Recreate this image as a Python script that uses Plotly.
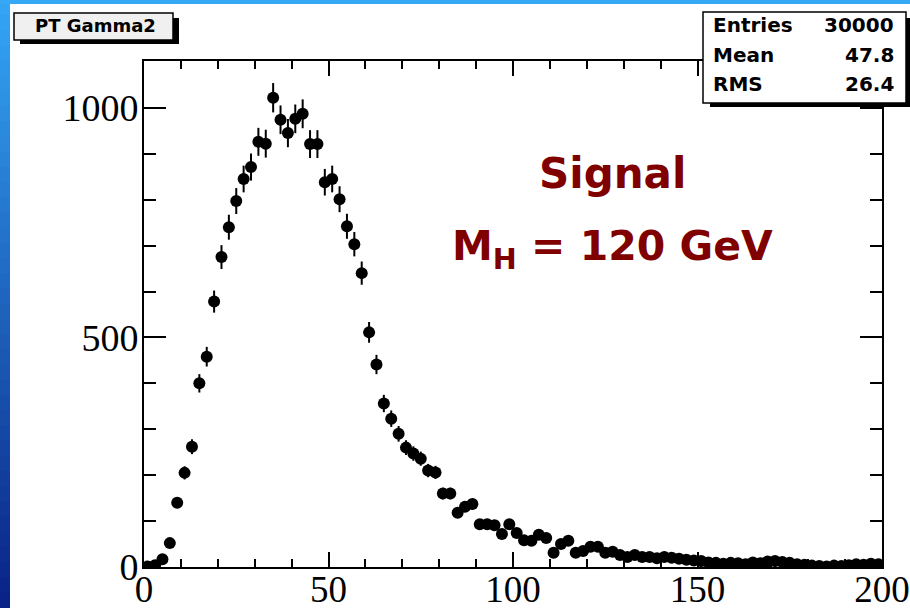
import plotly.graph_objects as go

# ---------------- data ----------------
bin_start = 1      # first bin centre (GeV)
bin_width = 2      # GeV
counts = [
    1, 4, 17, 52, 140, 205, 262, 400, 458, 578,
    675, 740, 797, 845, 871, 926, 922, 1022, 974, 945,
    976, 987, 921, 921, 838, 845, 801, 742, 703, 640,
    511, 441, 356, 323, 290, 260, 247, 236, 210, 206,
    160, 160, 118, 131, 137, 93, 93, 91, 72, 93,
    74, 58, 57, 70, 63, 31, 50, 57, 31, 35,
    44, 44, 31, 33, 26, 22, 26, 22, 22, 19,
    22, 20, 18, 16, 14, 13, 10, 9, 7, 9,
    8, 6, 10, 8, 12, 13, 11, 9, 6, 5,
    3, 2, 1, 3, 2, 4, 6, 5, 7, 6,
]
hist_title = "PT Gamma2"
stats_labels = ["Entries", "Mean", "RMS"]
stats_values = ["30000", "47.8", "26.4"]
x_ticks = [0, 50, 100, 150, 200]
y_ticks = [0, 500, 1000]

# ---------------- layout geometry (pixels) ----------------
W, H = 910, 608
L, R, T, B = 144, 28, 61, 41
PW, PH = W - L - R, H - T - B


def px(x):
    return (x - L) / PW


def py(y):
    return (H - B - y) / PH


fig = go.Figure()
fig.add_trace(go.Scatter(
    x0=bin_start, dx=bin_width, y=counts, mode="markers",
    marker=dict(symbol="circle", size=12, color="black"),
    error_y=dict(type="sqrt", thickness=2, width=0, color="black"),
    showlegend=False, cliponaxis=True,
))

shapes = []
# blue frame: left gradient strip and top strip
top_col = (52, 165, 245)
bot_col = (10, 35, 135)
nb = 40
for i in range(nb):
    t = i / (nb - 1)
    c = tuple(int(top_col[k] + (bot_col[k] - top_col[k]) * t) for k in range(3))
    y0 = H * i / nb
    y1 = H * (i + 1) / nb + 1
    shapes.append(dict(type="rect", xref="paper", yref="paper",
                       x0=px(0), x1=px(10), y0=py(y1), y1=py(y0),
                       line=dict(width=0), fillcolor="rgb(%d,%d,%d)" % c, layer="below"))
shapes.append(dict(type="rect", xref="paper", yref="paper",
                   x0=px(0), x1=px(W), y0=py(4), y1=py(0),
                   line=dict(width=0), fillcolor="rgb(55,168,246)", layer="below"))

# title box with shadow
shapes.append(dict(type="rect", xref="paper", yref="paper",
                   x0=px(20), x1=px(179), y0=py(44), y1=py(18),
                   line=dict(width=0), fillcolor="black"))
shapes.append(dict(type="rect", xref="paper", yref="paper",
                   x0=px(14), x1=px(173), y0=py(40), y1=py(13),
                   line=dict(width=1.5, color="black"), fillcolor="#f0f0f0"))
# stats box with shadow
shapes.append(dict(type="rect", xref="paper", yref="paper",
                   x0=px(710), x1=px(910), y0=py(107), y1=py(18),
                   line=dict(width=0), fillcolor="black"))
shapes.append(dict(type="rect", xref="paper", yref="paper",
                   x0=px(703), x1=px(906), y0=py(103), y1=py(12),
                   line=dict(width=1.5, color="black"), fillcolor="white"))

annotations = []
annotations.append(dict(xref="paper", yref="paper", x=px(95), y=py(26),
                        text="<b>%s</b>" % hist_title, showarrow=False,
                        xanchor="center", yanchor="middle",
                        font=dict(family="DejaVu Sans", size=18, color="black")))
rows_y = [25, 55, 84]
for lab, val, yy in zip(stats_labels, stats_values, rows_y):
    annotations.append(dict(xref="paper", yref="paper", x=px(711), y=py(yy),
                            text="<b>%s</b>" % lab, showarrow=False,
                            xanchor="left", yanchor="middle",
                            font=dict(family="DejaVu Sans", size=20, color="black")))
    annotations.append(dict(xref="paper", yref="paper", x=px(896), y=py(yy),
                            text="<b>%s</b>" % val, showarrow=False,
                            xanchor="right", yanchor="middle",
                            font=dict(family="DejaVu Sans", size=20, color="black")))
red = "#800000"
annotations.append(dict(xref="paper", yref="paper", x=px(612), y=py(173),
                        text="<b>Signal</b>", showarrow=False,
                        xanchor="center", yanchor="middle",
                        font=dict(family="DejaVu Sans", size=42, color=red)))
annotations.append(dict(xref="paper", yref="paper", x=px(450), y=py(249),
                        text="<b>M<sub>H</sub> = 120 GeV</b>", showarrow=False,
                        xanchor="left", yanchor="middle",
                        font=dict(family="DejaVu Sans", size=41, color=red)))

x_font = dict(family="Liberation Serif", size=37, color="black")
y_font = dict(family="Liberation Serif", size=38, color="black")
fig.update_layout(
    width=W, height=H,
    margin=dict(l=L, r=R, t=T, b=B, pad=0, autoexpand=False),
    paper_bgcolor="white", plot_bgcolor="white",
    shapes=shapes, annotations=annotations,
    xaxis=dict(range=[0, 200], tickvals=x_ticks, ticks="inside", ticklen=15,
               tickwidth=2, tickcolor="black", showline=True, linewidth=2,
               linecolor="black", mirror="ticks", showgrid=False, zeroline=False,
               tickfont=x_font, automargin=False, ticklabelstandoff=-11,
               ticklabeloverflow="allow",
               minor=dict(dtick=10, ticks="inside", ticklen=8, tickwidth=2,
                          tickcolor="black", showgrid=False)),
    yaxis=dict(range=[0, 1102], tickvals=y_ticks, ticks="inside", ticklen=22,
               tickwidth=2, tickcolor="black", showline=True, linewidth=2,
               linecolor="black", mirror="ticks", showgrid=False, zeroline=False,
               tickfont=y_font, automargin=False, ticklabelstandoff=-4,
               ticklabeloverflow="allow",
               minor=dict(dtick=100, ticks="inside", ticklen=12, tickwidth=2,
                          tickcolor="black", showgrid=False)),
)

fig.write_html("out.html")
